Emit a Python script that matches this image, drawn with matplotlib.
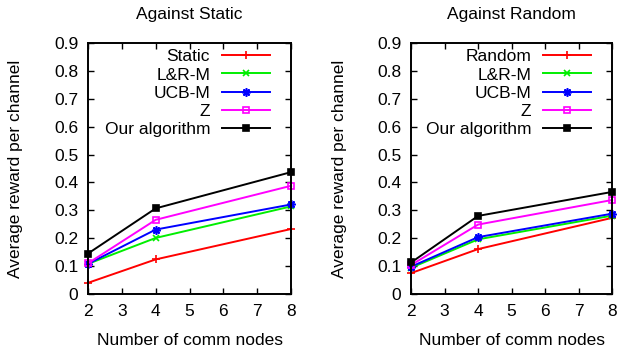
import matplotlib
matplotlib.use('Agg')
import matplotlib.pyplot as plt

plt.rcParams['font.family'] = ['Liberation Sans', 'DejaVu Sans']
plt.rcParams['font.size'] = 12.5

nodes = [2, 4, 8]

# Against Static
static_opp = [0.040, 0.124, 0.233]
static_lrm = [0.108, 0.201, 0.314]
static_ucb = [0.108, 0.231, 0.321]
static_z = [0.110, 0.266, 0.388]
static_ours = [0.145, 0.307, 0.437]

# Against Random
random_opp = [0.075, 0.161, 0.273]
random_lrm = [0.094, 0.196, 0.281]
random_ucb = [0.098, 0.204, 0.288]
random_z = [0.104, 0.249, 0.337]
random_ours = [0.113, 0.280, 0.366]

y_ticks = [0, 0.1, 0.2, 0.3, 0.4, 0.5, 0.6, 0.7, 0.8, 0.9]
x_ticks = [2, 3, 4, 5, 6, 7, 8]

asterisk = (8, 2, 0)


def draw_panel(ax, title, opp_name, series):
    styles = [
        (opp_name, '#ff0000', '+', 'none', 5.5),
        ('L&R-M', '#00ee00', 'x', 'none', 4.5),
        ('UCB-M', '#0000ff', asterisk, 'none', 6),
        ('Z', '#ff00ff', 's', 'none', 4.5),
        ('Our algorithm', 'black', 's', 'black', 4.5),
    ]
    for (name, color, marker, fc, ms), vals in zip(styles, series):
        ax.plot(nodes, vals, color=color, lw=1.4, marker=marker, ms=ms,
                mec=color, mfc=fc, mew=1.2, label=name, clip_on=False)
    ax.set_xlim(2, 8)
    ax.set_ylim(0, 0.9)
    ax.set_xticks(x_ticks)
    ax.set_yticks(y_ticks)
    ax.set_yticklabels(['0' if v == 0 else '%.1f' % v for v in y_ticks])
    ax.tick_params(direction='in', top=True, right=True, length=4, width=1,
                   pad=7, labelsize=12.5)
    for s in ax.spines.values():
        s.set_linewidth(1.4)
    ax.set_title(title, fontsize=12.5, pad=17)
    ax.set_xlabel('Number of comm nodes', fontsize=12.5, labelpad=10)
    ax.set_ylabel('Average reward per channel', fontsize=12.5, labelpad=22)
    ax.legend(loc='upper right', bbox_to_anchor=(0.897, 0.975), frameon=False,
              markerfirst=False, handlelength=2.76, handletextpad=0.7,
              labelspacing=0.17, borderaxespad=0, borderpad=0, fontsize=12.5)


fig = plt.figure(figsize=(6.21, 3.52), dpi=100)
ax1 = fig.add_axes([0.1417, 0.1648, 0.327, 0.713])
ax2 = fig.add_axes([0.662, 0.1648, 0.3237, 0.713])

draw_panel(ax1, 'Against Static', 'Static',
           [static_opp, static_lrm, static_ucb, static_z, static_ours])
draw_panel(ax2, 'Against Random', 'Random',
           [random_opp, random_lrm, random_ucb, random_z, random_ours])

fig.savefig('out.png', dpi=100)
